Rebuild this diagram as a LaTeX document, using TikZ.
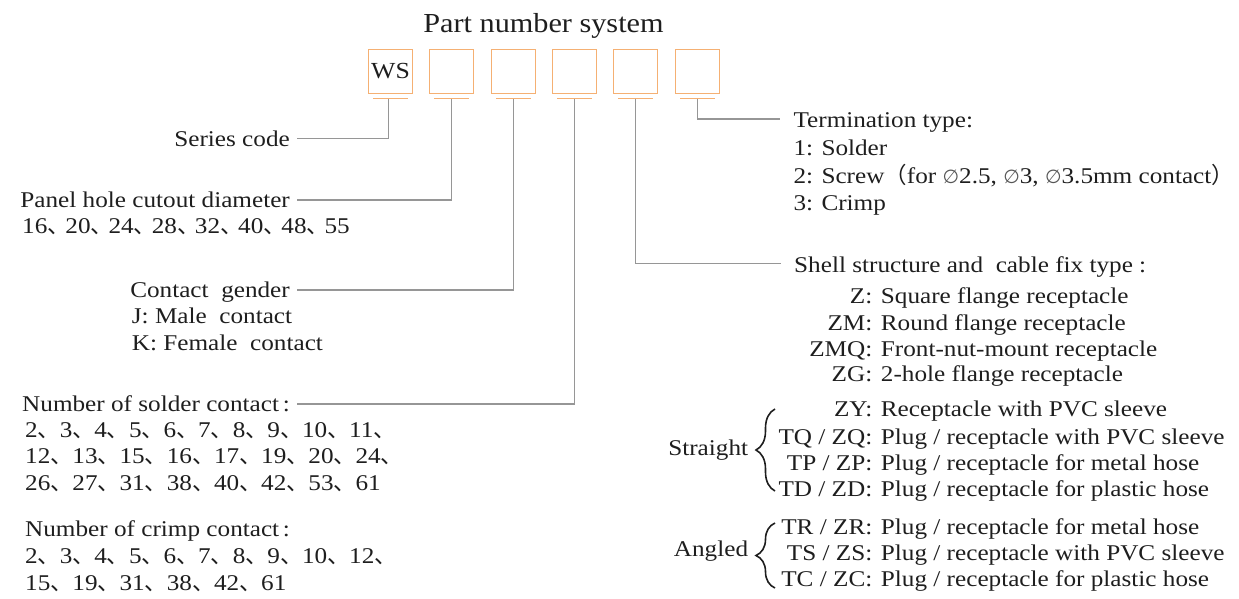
\documentclass[tikz,border=0pt]{standalone}
\usepackage{fontspec}
\setmainfont[FakeStretch=1.12]{Liberation Serif}
\newfontfamily\titlef[FakeStretch=1.1]{Liberation Serif}
\newfontfamily\cjk{Noto Sans CJK SC}
\newfontfamily\dv{DejaVu Sans}
\usetikzlibrary{decorations.pathreplacing}
\definecolor{boxor}{RGB}{245,176,115}
\definecolor{lngray}{RGB}{150,150,150}
\definecolor{txt}{RGB}{30,30,30}
\newcommand\dun{\makebox[22pt][l]{\cjk 、}}
\newcommand\dunn{\makebox[18pt][l]{\cjk 、}}
\newcommand\dia{{\dv\fontsize{19}{20}\selectfont\color{txt!75}∅}}
\tikzset{
  bodytext/.style={inner sep=0pt, text=txt, font=\fontsize{22.5}{27}\selectfont},
  lw/.style={bodytext, anchor=base west},
  le/.style={bodytext, anchor=base east},
  pbox/.style={draw=boxor, line width=1.6pt, minimum width=44pt, minimum height=44pt,
    inner sep=0pt, text=txt, font=\fontsize{23}{25}\selectfont},
  uline/.style={draw=boxor, line width=1.6pt},
  conn/.style={draw=lngray, line width=1.2pt},
  bracestyle/.style={draw=txt, line width=1.6pt, decorate,
    decoration={brace, amplitude=19pt, aspect=0.5}}
}
\begin{document}
\begin{tikzpicture}[x=1pt, y=-1pt]
\useasboundingbox (0,0) rectangle (1239,598);

% title
\node[inner sep=0pt, text=txt, font=\titlef\fontsize{27.5}{30}\selectfont, anchor=base] (title) at (543.5,32) {Part number system};

% boxes
\node[pbox] (b1) at (390.5,71.5) {WS};
\node[pbox] (b2) at (451.5,71.5) {};
\node[pbox] (b3) at (513.5,71.5) {};
\node[pbox] (b4) at (574.5,71.5) {};
\node[pbox] (b5) at (635.5,71.5) {};
\node[pbox] (b6) at (697.5,71.5) {};
\foreach \b in {b1,b2,b3,b4,b5,b6}{
  \draw[uline] ([xshift=-17.5pt,yshift=-4pt]\b.south) -- ([xshift=17.5pt,yshift=-4pt]\b.south);
}
\coordinate (t1) at ([xshift=-2pt,yshift=-4.5pt]b1.south);
\coordinate (t2) at ([yshift=-4.5pt]b2.south);
\coordinate (t3) at ([yshift=-4.5pt]b3.south);
\coordinate (t4) at ([yshift=-4.5pt]b4.south);
\coordinate (t5) at ([yshift=-4.5pt]b5.south);
\coordinate (t6) at ([yshift=-4.5pt]b6.south);

% left labels
\node[le] (series) at (290,146) {Series code};
\node[le] (panel) at (290,207.5) {Panel hole cutout diameter};
\node[lw] (panell) at (22,233.3) {16\dunn 20\dunn 24\dunn 28\dunn 32\dunn 40\dunn 48\dunn 55};
\node[le] (gender) at (290,297) {Contact\ \ gender};
\node[lw] (genj) at (131.7,323) {J: Male\ \ contact};
\node[lw] (genk) at (131.7,350) {K: Female\ \ contact};
\node[le] (solder) at (290,411) {Number of solder contact\,:};
\node[lw] (sol1) at (25,437) {2\dun 3\dun 4\dun 5\dun 6\dun 7\dun 8\dun 9\dun 10\dun 11\dun};
\node[lw] (sol2) at (25,463.5) {12\dun 13\dun 15\dun 16\dun 17\dun 19\dun 20\dun 24\dun};
\node[lw] (sol3) at (25,490) {26\dun 27\dun 31\dun 38\dun 40\dun 42\dun 53\dun 61};
\node[lw] (crimp) at (25,536.7) {Number of crimp contact\,:};
\node[lw] (cri1) at (25,563.3) {2\dun 3\dun 4\dun 5\dun 6\dun 7\dun 8\dun 9\dun 10\dun 12\dun};
\node[lw] (cri2) at (25,590) {15\dun 19\dun 31\dun 38\dun 42\dun 61};

% right labels: termination
\node[lw] (term) at (793.3,127.3) {Termination type:};
\node[lw] (term1) at (793.3,155.7) {1: Solder};
\node[lw] (term2) at (793.3,183.3) {2: Screw{\cjk （}for \dia 2.5, \dia 3, \dia 3.5mm contact{\cjk ）}};
\node[lw] (term3) at (793.3,210.7) {3: Crimp};

% shell
\node[lw] (shell) at (794,272) {Shell structure and\ \ cable fix type :};
\node[le] (kz) at (872.5,303.3) {Z:};     \node[lw] (dz) at (880.7,303.3) {Square flange receptacle};
\node[le] (kzm) at (872.5,330.7) {ZM:};   \node[lw] (dzm) at (880.7,330.7) {Round flange receptacle};
\node[le] (kzmq) at (872.5,356.7) {ZMQ:}; \node[lw] (dzmq) at (880.7,356.7) {Front-nut-mount receptacle};
\node[le] (kzg) at (872.5,381.7) {ZG:};   \node[lw] (dzg) at (880.7,381.7) {2-hole flange receptacle};
\node[le] (kzy) at (872.5,416.7) {ZY:};   \node[lw] (dzy) at (880.7,416.7) {Receptacle with PVC sleeve};
\node[le] (ktq) at (872.5,444) {TQ / ZQ:}; \node[lw] (dtq) at (880.7,444) {Plug / receptacle with PVC sleeve};
\node[le] (ktp) at (872.5,470) {TP / ZP:}; \node[lw] (dtp) at (880.7,470) {Plug / receptacle for metal hose};
\node[le] (ktd) at (872.5,496) {TD / ZD:}; \node[lw] (dtd) at (880.7,496) {Plug / receptacle for plastic hose};
\node[le] (ktr) at (872.5,534.3) {TR / ZR:}; \node[lw] (dtr) at (880.7,534.3) {Plug / receptacle for metal hose};
\node[le] (kts) at (872.5,560.7) {TS / ZS:}; \node[lw] (dts) at (880.7,560.7) {Plug / receptacle with PVC sleeve};
\node[le] (ktc) at (872.5,586.7) {TC / ZC:}; \node[lw] (dtc) at (880.7,586.7) {Plug / receptacle for plastic hose};

\node[le] (straight) at (748.3,455) {Straight};
\node[le] (angled) at (748.3,556.7) {Angled};
\coordinate (sb1) at (775,491); \coordinate (sb2) at (775,409);
\coordinate (ab1) at (775,588); \coordinate (ab2) at (775,523);
\draw[bracestyle] (sb1) -- (sb2);
\draw[bracestyle] (ab1) -- (ab2);

% connectors
\draw[conn] (t1) |- ([xshift=7pt,yshift=7.5pt]series.base east);
\draw[conn] (t2) |- ([xshift=7pt,yshift=7.5pt]panel.base east);
\draw[conn] (t3) |- ([xshift=7pt,yshift=7pt]gender.base east);
\draw[conn] (t4) |- ([xshift=7pt,yshift=7pt]solder.base east);
\draw[conn] (t5) |- ([xshift=-13.5pt,yshift=8.7pt]shell.base west);
\draw[conn] (t6) |- ([xshift=-13.5pt,yshift=8.3pt]term.base west);
\end{tikzpicture}
\end{document}
